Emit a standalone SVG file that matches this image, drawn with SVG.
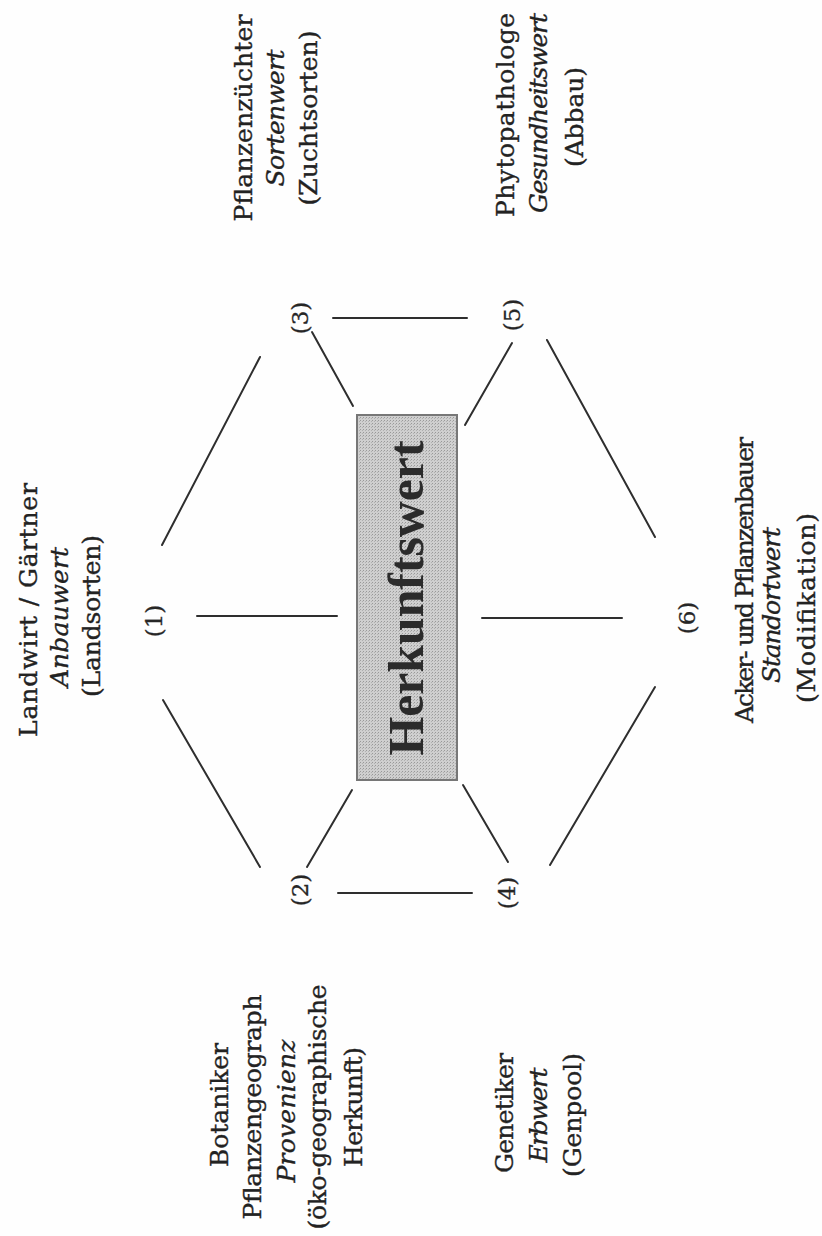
<svg xmlns="http://www.w3.org/2000/svg" width="822" height="1236" viewBox="0 0 822 1236">
  <defs>
    <!-- halftone grey for the central box -->
    <pattern id="stipple" width="3" height="3" patternUnits="userSpaceOnUse">
      <rect width="3" height="3" fill="#cfcfcf"/>
      <rect width="1" height="1" fill="#999999"/>
      <rect x="2" y="1" width="1" height="1" fill="#b0b0b0"/>
    </pattern>
    <style>
      .lbl { font-family: "DejaVu Serif", "Liberation Serif", serif; font-size: 25px; fill: #222; stroke: #222; stroke-width: 0.35; }
      .it { font-style: italic; }
      .num { font-family: "DejaVu Serif", "Liberation Serif", serif; font-size: 23px; fill: #262626; stroke: #262626; stroke-width: 0.3; }
      .title { font-family: "Liberation Serif", "DejaVu Serif", serif; font-size: 50px; font-weight: bold; fill: #2b2b2b; }
      .conn line { stroke: #2e2e2e; stroke-width: 2; stroke-linecap: round; }
    </style>
  </defs>

  <rect width="822" height="1236" fill="#fefefe"/>

  <!-- connectors -->
  <g id="connectors" class="conn">
    <line x1="162" y1="545" x2="260" y2="357"/>
    <line x1="197" y1="616" x2="337" y2="616"/>
    <line x1="163" y1="700" x2="260" y2="867"/>
    <line x1="312" y1="332" x2="353" y2="406"/>
    <line x1="333" y1="318" x2="467" y2="318"/>
    <line x1="512" y1="343" x2="465" y2="425"/>
    <line x1="547" y1="340" x2="655" y2="537"/>
    <line x1="482" y1="618" x2="622" y2="618"/>
    <line x1="655" y1="687" x2="550" y2="865"/>
    <line x1="508" y1="862" x2="463" y2="785"/>
    <line x1="307" y1="867" x2="352" y2="790"/>
    <line x1="338" y1="893" x2="472" y2="893"/>
  </g>

  <!-- centre -->
  <g id="herkunftswert">
    <rect x="357" y="415" width="100" height="365" fill="url(#stipple)" stroke="#777" stroke-width="2"/>
    <text class="title" x="423" y="598" text-anchor="middle" textLength="315" lengthAdjust="spacingAndGlyphs" transform="rotate(-90 423 598)">Herkunftswert</text>
  </g>

  <!-- (1) Landwirt / Gärtner -->
  <g id="node1">
    <text class="num" x="162" y="621" text-anchor="middle" transform="rotate(-90 162 621)">(1)</text>
    <text class="lbl" x="37" y="610" text-anchor="middle" textLength="254" lengthAdjust="spacing" transform="rotate(-90 37 610)">Landwirt / Gärtner</text>
    <text class="lbl it" x="68" y="617" text-anchor="middle" textLength="140" lengthAdjust="spacing" transform="rotate(-90 68 617)">Anbauwert</text>
    <text class="lbl" x="100" y="616" text-anchor="middle" textLength="162" lengthAdjust="spacing" transform="rotate(-90 100 616)">(Landsorten)</text>
  </g>

  <!-- (2) Botaniker -->
  <g id="node2">
    <text class="num" x="308" y="890" text-anchor="middle" transform="rotate(-90 308 890)">(2)</text>
    <text class="lbl" x="228" y="1105" text-anchor="middle" textLength="124" lengthAdjust="spacing" transform="rotate(-90 228 1105)">Botaniker</text>
    <text class="lbl" x="261" y="1107" text-anchor="middle" textLength="225" lengthAdjust="spacing" transform="rotate(-90 261 1107)">Pflanzengeograph</text>
    <text class="lbl it" x="295" y="1111" text-anchor="middle" textLength="143" lengthAdjust="spacing" transform="rotate(-90 295 1111)">Provenienz</text>
    <text class="lbl" x="326" y="1107" text-anchor="middle" textLength="245" lengthAdjust="spacing" transform="rotate(-90 326 1107)">(öko-geographische</text>
    <text class="lbl" x="362" y="1107" text-anchor="middle" textLength="120" lengthAdjust="spacing" transform="rotate(-90 362 1107)">Herkunft)</text>
  </g>

  <!-- (3) Pflanzenzüchter -->
  <g id="node3">
    <text class="num" x="308" y="318" text-anchor="middle" transform="rotate(-90 308 318)">(3)</text>
    <text class="lbl" x="252" y="118" text-anchor="middle" textLength="207" lengthAdjust="spacing" transform="rotate(-90 252 118)">Pflanzenzüchter</text>
    <text class="lbl it" x="284" y="118" text-anchor="middle" textLength="137" lengthAdjust="spacing" transform="rotate(-90 284 118)">Sortenwert</text>
    <text class="lbl" x="317" y="118" text-anchor="middle" textLength="175" lengthAdjust="spacing" transform="rotate(-90 317 118)">(Zuchtsorten)</text>
  </g>

  <!-- (4) Genetiker -->
  <g id="node4">
    <text class="num" x="515" y="893" text-anchor="middle" transform="rotate(-90 515 893)">(4)</text>
    <text class="lbl" x="513" y="1113" text-anchor="middle" textLength="120" lengthAdjust="spacing" transform="rotate(-90 513 1113)">Genetiker</text>
    <text class="lbl it" x="547" y="1115" text-anchor="middle" textLength="95" lengthAdjust="spacing" transform="rotate(-90 547 1115)">Erbwert</text>
    <text class="lbl" x="581" y="1115" text-anchor="middle" textLength="124" lengthAdjust="spacing" transform="rotate(-90 581 1115)">(Genpool)</text>
  </g>

  <!-- (5) Phytopathologe -->
  <g id="node5">
    <text class="num" x="520" y="315" text-anchor="middle" transform="rotate(-90 520 315)">(5)</text>
    <text class="lbl" x="514" y="115" text-anchor="middle" textLength="204" lengthAdjust="spacing" transform="rotate(-90 514 115)">Phytopathologe</text>
    <text class="lbl it" x="547" y="113" text-anchor="middle" textLength="200" lengthAdjust="spacing" transform="rotate(-90 547 113)">Gesundheitswert</text>
    <text class="lbl" x="583" y="117" text-anchor="middle" textLength="100" lengthAdjust="spacing" transform="rotate(-90 583 117)">(Abbau)</text>
  </g>

  <!-- (6) Acker- und Pflanzenbauer -->
  <g id="node6">
    <text class="num" x="695" y="618" text-anchor="middle" transform="rotate(-90 695 618)">(6)</text>
    <text class="lbl" x="753" y="580" text-anchor="middle" textLength="286" lengthAdjust="spacing" transform="rotate(-90 753 580)">Acker- und Pflanzenbauer</text>
    <text class="lbl it" x="780" y="605" text-anchor="middle" textLength="156" lengthAdjust="spacing" transform="rotate(-90 780 605)">Standortwert</text>
    <text class="lbl" x="815" y="608" text-anchor="middle" textLength="190" lengthAdjust="spacing" transform="rotate(-90 815 608)">(Modifikation)</text>
  </g>
</svg>
